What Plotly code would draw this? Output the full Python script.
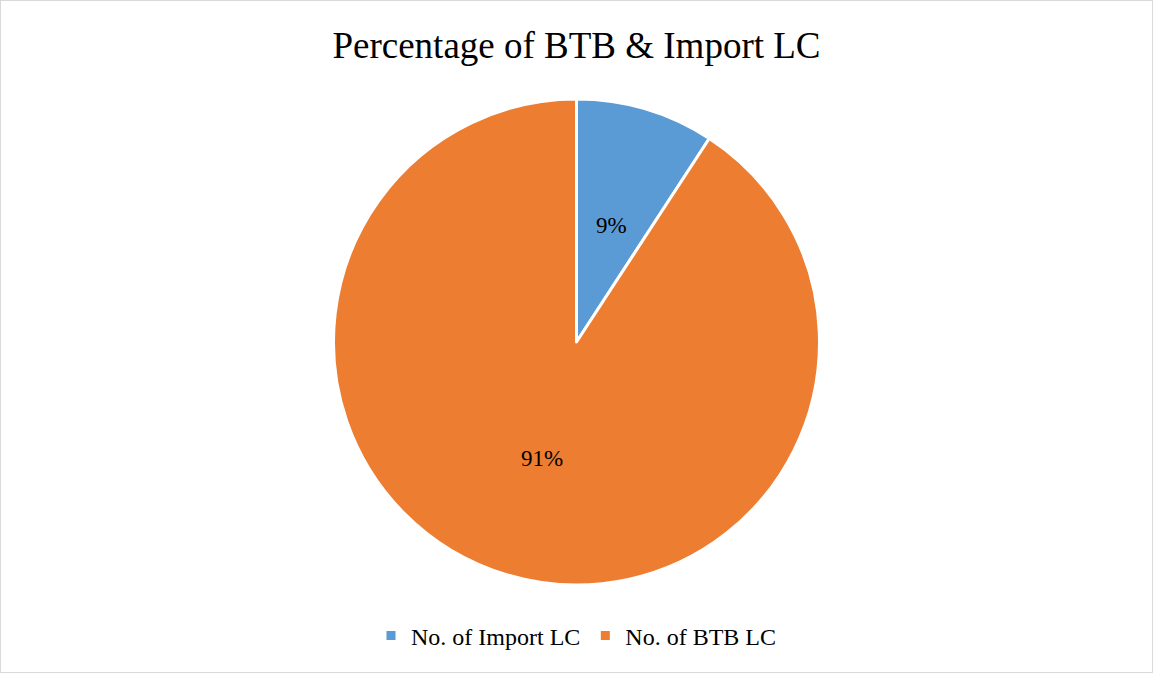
import math
import plotly.graph_objects as go

labels = ["No. of Import LC", "No. of BTB LC"]
values = [9.2, 90.8]
colors = ["#5B9BD5", "#ED7D31"]

W, H = 1153, 673
# pie geometry (pixels)
CX, CY, R = 577, 342, 243

fig = go.Figure(go.Pie(
    labels=labels,
    values=values,
    sort=False,
    direction="clockwise",
    rotation=0,
    marker=dict(colors=colors, line=dict(color="white", width=3)),
    textinfo="none",
    domain=dict(x=[0, 1], y=[(H - CY - R) / H, (H - CY + R) / H]),
    hoverinfo="label+percent",
))

# data labels at half radius, mid-angle of each slice (Excel-like "center" position)
total = sum(values)
annotations = []
cum = 0.0
for v in values:
    mid = (cum + v / 2) / total * 2 * math.pi
    cum += v
    px = CX + 0.5 * R * math.sin(mid)
    py = CY - 0.5 * R * math.cos(mid)
    annotations.append(dict(
        x=px / W, y=1 - py / H, xref="paper", yref="paper",
        text=f"{round(v / total * 100)}%", showarrow=False,
        xanchor="center", yanchor="middle",
        font=dict(family="Liberation Serif", size=23, color="black"),
    ))

fig.update_layout(
    width=W, height=H,
    margin=dict(l=0, r=0, t=0, b=0),
    paper_bgcolor="white",
    title=dict(text="Percentage of BTB &amp; Import LC", x=0.5, xanchor="center",
               y=1 - 45 / H, yanchor="middle",
               font=dict(family="Liberation Serif", size=37, color="black")),
    legend=dict(orientation="h", x=576 / W, xanchor="center", y=1 - 636 / H, yanchor="middle",
                font=dict(family="Liberation Serif", size=24, color="black"),
                itemwidth=30, traceorder="normal"),
    annotations=annotations,
    shapes=[dict(type="rect", xref="paper", yref="paper", x0=0, y0=0, x1=1, y1=1,
                 line=dict(color="#d9d9d9", width=2), fillcolor="rgba(0,0,0,0)")],
)

fig.write_html("out.html")
